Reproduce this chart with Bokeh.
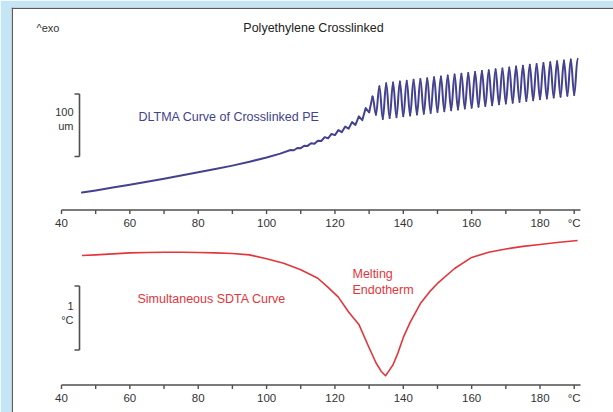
from bokeh.plotting import figure
from bokeh.models import Range1d
from bokeh.core.properties import value
from bokeh.embed import file_html
from bokeh.resources import INLINE

# ---------------- data ----------------
# DLTMA displacement (um, relative to start) vs temperature (°C);
# from 107 °C on the points are the turning points of the modulated signal
dltma_temp = [46, 50, 55, 60, 65, 70, 75, 80, 85, 90, 95, 100, 104,
              107, 108, 109, 110, 111, 112, 113, 114, 115, 116, 117, 118, 119, 120,
              121, 122, 123, 124, 125, 126, 127, 128, 129, 130, 131, 132, 133, 134,
              135, 136, 137, 138, 139, 140, 141, 142, 143, 144, 145, 146, 147, 148,
              149, 150, 151, 152, 153, 154, 155, 156, 157, 158, 159, 160, 161, 162,
              163, 164, 165, 166, 167, 168, 169, 170, 171, 172, 173, 174, 175, 176,
              177, 178, 179, 180, 181, 182, 183, 184, 185, 186, 187, 188, 189, 190, 191]
dltma_um = [0.0, 3.3, 7.7, 12.2, 16.8, 21.6, 26.5, 31.5, 36.6, 42.0, 48.0, 54.7, 60.8,
            66.4, 66.0, 69.5, 69.3, 73.0, 72.8, 77.0, 76.3, 81.0, 80.5, 86.5, 84.7, 91.5, 89.7,
            97.5, 94.2, 103.0, 99.7, 110.0, 105.7, 119.0, 113.0, 132.0, 125.0, 150.0, 121.6, 166.0, 115.0,
            170.6, 116.3, 172.0, 117.7, 173.3, 119.0, 174.7, 120.4, 176.0, 121.7, 177.4, 123.1, 178.7, 124.4,
            180.1, 125.8, 181.4, 127.1, 182.8, 128.5, 184.2, 129.8, 185.5, 131.2, 186.9, 132.5, 188.3, 133.8,
            189.7, 135.1, 191.1, 136.4, 192.5, 137.8, 193.9, 139.0, 195.3, 140.4, 196.7, 141.6, 198.1, 143.0,
            199.5, 144.2, 200.9, 145.6, 202.2, 146.9, 203.6, 148.3, 205.0, 149.6, 206.3, 151.0, 207.7, 152.3, 209.0]

# SDTA signal (°C, relative to start) vs temperature (°C)
sdta_temp = [46, 50, 55, 60, 65, 70, 75, 80, 85, 90, 95, 100, 105, 110, 115, 118, 121,
             124, 127, 130, 132, 133.5, 134.8, 136, 137, 138.5, 140, 142, 145, 148, 150,
             155, 160, 165, 170, 175, 180, 185, 191]
sdta_dT = [0.0, 0.01, 0.025, 0.04, 0.045, 0.05, 0.05, 0.045, 0.04, 0.03, 0.01, -0.05,
           -0.12, -0.22, -0.35, -0.49, -0.64, -0.87, -1.06, -1.42, -1.65, -1.78, -1.85,
           -1.76, -1.68, -1.49, -1.26, -1.03, -0.74, -0.54, -0.43, -0.2, -0.03, 0.05,
           0.1, 0.14, 0.17, 0.2, 0.23]

tick_values = [40, 50, 60, 70, 80, 90, 100, 110, 120, 130, 140, 150, 160, 170, 180, 190]
tick_labels = ["40", "", "60", "", "80", "", "100", "", "120", "", "140", "", "160", "", "180", "°C"]

# ---------------- layout helpers ----------------
PX_PER_C = 3.418          # screen px per °C
def px_x(px):             # screen x -> temperature coordinate
    return 40 + (px - 61) / PX_PER_C

FONT = value("Liberation Sans")
BG = "#c4e5f6"
AXIS_COL = "#4f4f4f"
TXT_COL = "#333333"
BLUE = "#42428f"
RED = "#e2353c"

p = figure(width=613, height=412, output_backend="svg", toolbar_location=None,
           x_axis_location=None, y_axis_location=None,
           x_range=Range1d(px_x(11), px_x(613)), y_range=Range1d(412, 7),
           min_border_left=11, min_border_top=7, min_border_right=0, min_border_bottom=0,
           border_fill_color=BG, background_fill_color="white", outline_line_color=None)
for g in p.grid:
    g.visible = False

# um: screen y = 192 - 0.64*um ; SDTA: screen y = 255 - 65*dT
p.extra_y_ranges = {
    "dltma": Range1d(start=(192 - 412) / 0.64, end=(192 - 7) / 0.64),
    "sdta": Range1d(start=(255 - 412) / 65.0, end=(255 - 7) / 65.0),
}

# panel border (left & top)
p.segment(x0=[px_x(11.75), px_x(11)], y0=[7, 7.75], x1=[px_x(11.75), px_x(613)], y1=[412, 7.75],
          line_color="#5a5a5a", line_width=1.5)

# DLTMA curve: smooth part as a polyline, modulated part as smooth bezier arcs
k = dltma_temp.index(131)
p.line(dltma_temp[:k + 1], dltma_um[:k + 1], y_range_name="dltma", line_color=BLUE,
       line_width=2, line_join="round", line_cap="round")
xs, ys = dltma_temp[k:], dltma_um[k:]
x0, x1, y0, y1 = xs[:-1], xs[1:], ys[:-1], ys[1:]
cx0 = [a + 0.36 * (b - a) for a, b in zip(x0, x1)]
cx1 = [b - 0.36 * (b - a) for a, b in zip(x0, x1)]
p.bezier(x0=x0, y0=y0, x1=x1, y1=y1, cx0=cx0, cy0=y0, cx1=cx1, cy1=y1,
         y_range_name="dltma", line_color=BLUE, line_width=2, line_cap="round")

# SDTA curve
p.line(sdta_temp, sdta_dT, y_range_name="sdta", line_color=RED, line_width=1.6, line_join="round")

# two temperature axes
for ay, ly in [(209.5, 222.5), (384.5, 397)]:
    p.segment(x0=[tick_values[0]], y0=[ay], x1=[px_x(580)], y1=[ay],
              line_color=AXIS_COL, line_width=1.6)
    p.segment(x0=tick_values, y0=[ay] * len(tick_values), x1=tick_values,
              y1=[ay + 4] * len(tick_values), line_color=AXIS_COL, line_width=1.4)
    p.text(x=tick_values, y=[ly] * len(tick_values), text=tick_labels, text_font=FONT,
           text_font_size="11.5px", text_color=TXT_COL, text_align="center", text_baseline="middle")

# scale brackets
for top, bot in [(93.5, 156), (285.5, 349.5)]:
    bx = px_x(79)
    p.segment(x0=[bx, px_x(74), px_x(74)], y0=[top, top, bot], x1=[bx, bx, bx], y1=[bot, top, bot],
              line_color=AXIS_COL, line_width=1.6)
p.text(x=[px_x(73)] * 4, y=[111, 125, 305, 319], text=["100", "um", "1", "°C"], text_font=FONT,
       text_font_size="11px", text_color=TXT_COL, text_align="right", text_baseline="middle")

# titles and annotations
p.text(x=[px_x(36)], y=[27], text=["^exo"], text_font=FONT, text_font_size="11px",
       text_color=TXT_COL, text_align="left", text_baseline="middle")
p.text(x=[px_x(313)], y=[27], text=["Polyethylene Crosslinked"], text_font=FONT,
       text_font_size="12.5px", text_color="#222222", text_align="center", text_baseline="middle")
p.text(x=[px_x(138)], y=[116], text=["DLTMA Curve of Crosslinked PE"], text_font=FONT,
       text_font_size="12.5px", text_color=BLUE, text_align="left", text_baseline="middle")
p.text(x=[px_x(137)], y=[298], text=["Simultaneous SDTA Curve"], text_font=FONT,
       text_font_size="12.5px", text_color=RED, text_align="left", text_baseline="middle")
p.text(x=[px_x(352), px_x(352)], y=[273, 289], text=["Melting", "Endotherm"], text_font=FONT,
       text_font_size="12.5px", text_color=RED, text_align="left", text_baseline="middle")

open("out.html", "w").write(file_html(p, INLINE))
